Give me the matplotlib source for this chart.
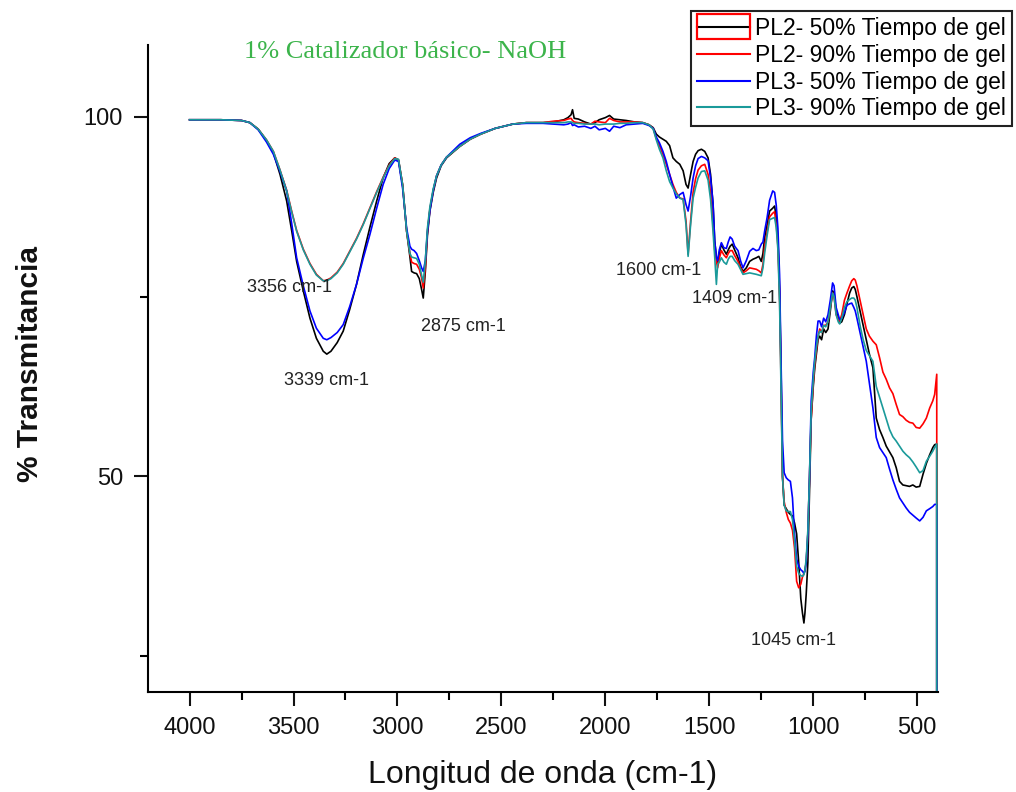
import matplotlib
matplotlib.use("Agg")
import matplotlib.pyplot as plt
from matplotlib.patches import Rectangle
from matplotlib.ticker import MultipleLocator

plt.rcParams['font.family'] = ['Liberation Sans', 'DejaVu Sans']

# Wavenumber grid (cm-1), shared by the four spectra
wavenumber = (
    [4000, 3850, 3750, 3710, 3670, 3630, 3597, 3565, 3533, 3509,
     3485, 3453, 3421, 3390, 3357, 3340, 3320, 3290, 3261, 3230,
     3197, 3165, 3133, 3100, 3069, 3040, 3013]
    + [2995, 2975, 2956, 2940, 2932, 2920, 2908, 2895, 2884, 2876,
       2866, 2856, 2844, 2828, 2812, 2790, 2764]
    + [2700, 2650, 2600, 2530, 2445, 2380, 2300, 2250, 2200, 2180,
       2165, 2158, 2150, 2130, 2100, 2070, 2050, 2030, 2000, 1980,
       1960, 1930, 1900, 1860, 1820, 1790]
    + [1770, 1755, 1740, 1723, 1707, 1691, 1675, 1659, 1642, 1626,
       1612, 1602, 1590, 1578, 1566, 1554, 1538, 1522, 1506, 1494,
       1482, 1474, 1466, 1460, 1452, 1442, 1430, 1418, 1409, 1400,
       1390, 1378, 1362, 1350, 1338, 1322, 1306, 1290, 1274, 1262,
       1250, 1242, 1234, 1222, 1210, 1195, 1186, 1178, 1170, 1162, 1155]
    + [1148, 1140, 1130, 1120, 1110, 1100, 1090, 1080, 1070, 1060,
       1052, 1045, 1040, 1034, 1026, 1018, 1010, 1000, 993, 985,
       977, 969, 960, 950, 940, 929, 918, 907, 900, 890,
       880, 873, 863, 850, 838, 825, 815, 805, 798, 790,
       775, 760, 745, 730, 713, 697, 681, 665, 649, 633,
       617, 601, 585, 569, 553, 537, 521, 505, 488, 472,
       456, 440, 425, 416, 406, 406]
)

# % Transmittance, PL2 at 50 % gel time
pl2_50 = (
    [99.6, 99.6, 99.5, 99.2, 98.3, 96.7, 95.0, 92.0, 88.3, 84.2,
     79.9, 75.8, 72.0, 69.2, 67.4, 67.0, 67.4, 68.6, 70.2, 73.2,
     76.7, 80.8, 84.6, 88.3, 91.5, 93.5, 94.3]
    + [94.0, 90.5, 84.1, 80.5, 78.5, 78.3, 78.2, 77.5, 76.0, 74.8,
       78.5, 83.5, 86.9, 89.5, 91.5, 93.2, 94.3]
    + [95.9, 96.9, 97.6, 98.4, 99.0, 99.2, 99.2, 99.3, 99.6, 99.9,
       100.3, 101.0, 99.8, 99.7, 99.3, 99.0, 99.2, 99.6, 99.9, 100.2,
       99.7, 99.6, 99.5, 99.3, 99.2, 98.9]
    + [98.5, 97.6, 97.2, 96.9, 96.6, 96.0, 94.3, 93.8, 93.4, 92.5,
       90.6, 90.1, 92.0, 93.8, 94.8, 95.3, 95.5, 95.2, 94.3, 92.0,
       87.8, 82.7, 80.5, 79.5, 81.0, 82.3, 81.5, 80.9, 81.5, 82.0,
       82.3, 81.5, 80.4, 79.2, 78.5, 79.0, 79.9, 80.2, 80.4, 80.6,
       79.9, 81.0, 83.2, 85.0, 86.9, 87.3, 87.6, 86.0, 83.0, 76.0, 65.0]
    + [50.0, 46.0, 45.5, 45.0, 44.7, 44.5, 43.5, 42.0, 38.0, 33.0,
       31.0, 29.6, 31.0, 33.6, 38.0, 48.0, 58.0, 62.5, 65.0, 67.0,
       69.0, 69.5, 69.0, 70.5, 70.0, 70.5, 73.0, 75.8, 75.5, 73.0,
       72.0, 71.3, 71.5, 72.5, 74.0, 75.5, 76.2, 76.4, 76.0, 75.0,
       73.0, 71.0, 69.0, 67.0, 65.1, 58.1, 56.5, 55.4, 54.2, 53.4,
       52.6, 51.2, 49.3, 48.8, 48.7, 48.6, 48.8, 48.5, 48.6, 50.3,
       51.8, 53.0, 54.0, 54.4, 54.5, 0.0]
)

# % Transmittance, PL2 at 90 % gel time
pl2_90 = (
    [99.6, 99.6, 99.5, 99.2, 98.3, 96.8, 95.2, 92.6, 89.8, 86.9,
     84.2, 81.6, 79.6, 78.1, 77.2, 77.3, 77.6, 78.4, 79.6, 81.3,
     83.1, 85.1, 87.3, 89.6, 91.6, 93.3, 94.3]
    + [94.0, 90.5, 84.1, 81.0, 79.8, 79.6, 79.5, 78.8, 77.6, 76.2,
       79.0, 84.0, 87.2, 89.8, 91.8, 93.3, 94.4]
    + [95.9, 96.9, 97.6, 98.4, 99.0, 99.2, 99.2, 99.4, 99.5, 99.7,
       99.8, 99.5, 99.3, 99.2, 99.1, 99.0, 99.4, 99.3, 99.2, 99.8,
       99.5, 99.3, 99.3, 99.3, 99.2, 98.9]
    + [98.4, 97.0, 96.0, 94.8, 93.4, 92.0, 90.6, 89.5, 88.7, 88.6,
       85.5, 80.9, 85.5, 89.5, 91.4, 92.6, 93.2, 93.4, 92.0, 89.5,
       85.0, 81.5, 80.0, 79.0, 80.3, 81.4, 80.8, 80.4, 81.0, 81.4,
       81.4, 80.7, 79.9, 79.0, 78.3, 78.6, 79.0, 78.9, 78.8, 78.6,
       78.3, 79.5, 81.9, 84.0, 86.1, 86.6, 86.8, 85.0, 82.0, 75.0, 63.0]
    + [50.0, 46.5, 45.0, 44.0, 43.5, 42.5, 40.0, 35.4, 34.5, 35.0,
       36.0, 36.5, 37.0, 38.0, 42.0, 50.0, 58.0, 63.0, 65.5, 67.5,
       69.5, 70.5, 70.0, 71.0, 71.0, 71.5, 73.5, 75.5, 75.0, 72.5,
       71.8, 71.6, 72.5, 74.5, 75.5, 76.5, 77.2, 77.5, 77.3, 76.5,
       74.5, 72.5, 70.5, 69.5, 68.8, 68.3, 66.5, 64.5, 63.5, 62.3,
       61.5, 60.0, 58.6, 58.3, 57.8, 57.5, 57.4, 56.8, 56.7, 57.3,
       58.1, 59.5, 60.5, 61.4, 64.2, 0.0]
)

# % Transmittance, PL3 at 50 % gel time
pl3_50 = (
    [99.6, 99.6, 99.5, 99.2, 98.2, 96.5, 94.8, 92.4, 89.7, 85.2,
     80.4, 76.5, 73.0, 70.6, 69.2, 69.0, 69.3, 70.0, 71.1, 73.6,
     76.7, 80.3, 83.6, 87.3, 90.6, 92.8, 94.0]
    + [93.8, 90.0, 84.5, 82.0, 81.6, 81.4, 81.0, 80.0, 79.0, 78.5,
       80.0, 84.0, 87.0, 89.8, 91.8, 93.3, 94.4]
    + [96.2, 97.1, 97.7, 98.4, 99.0, 99.1, 99.1, 99.0, 98.9, 99.0,
       99.2, 98.8, 98.9, 98.6, 98.7, 98.4, 98.7, 98.2, 98.4, 98.0,
       98.7, 98.5, 98.9, 99.0, 99.1, 98.8]
    + [98.4, 97.2, 96.4, 95.2, 93.8, 92.0, 90.3, 88.7, 89.2, 89.5,
       87.8, 86.9, 89.0, 91.5, 93.2, 94.2, 94.5, 94.3, 93.9, 91.5,
       88.0, 82.7, 80.5, 80.0, 81.5, 82.5, 81.8, 81.7, 82.6, 83.3,
       83.0, 82.0, 81.4, 80.0, 79.0, 80.0, 81.3, 81.7, 81.4, 81.5,
       82.3, 82.6, 84.1, 86.0, 88.4, 89.7, 89.5, 87.7, 84.5, 78.0, 66.0]
    + [55.0, 50.5, 49.8, 49.5, 49.3, 47.0, 42.0, 38.5, 37.5, 37.0,
       36.8, 36.5, 36.8, 38.0, 42.0, 50.0, 60.5, 64.5, 66.5, 69.5,
       71.6, 71.6, 70.8, 72.0, 71.5, 72.5, 74.5, 76.9, 76.5, 73.5,
       72.5, 71.8, 72.0, 72.8, 73.8, 74.0, 74.1, 73.5, 73.0, 72.0,
       70.0, 68.0, 66.0, 63.0, 59.5, 55.4, 54.0, 53.3, 52.6, 51.0,
       49.5, 48.2, 47.0, 46.3, 45.6, 45.0, 44.6, 44.2, 43.8, 44.3,
       45.2, 45.5, 45.8, 46.1, 46.1, 0.0]
)

# % Transmittance, PL3 at 90 % gel time
pl3_90 = (
    [99.6, 99.6, 99.5, 99.2, 98.3, 96.8, 95.2, 92.6, 89.7, 86.8,
     84.1, 81.5, 79.5, 78.0, 77.2, 77.2, 77.5, 78.3, 79.5, 81.2,
     83.0, 85.0, 87.2, 89.5, 91.5, 93.2, 94.2]
    + [94.1, 90.5, 84.1, 81.0, 80.5, 80.4, 80.3, 79.5, 78.0, 77.0,
       80.0, 84.5, 87.5, 90.0, 91.8, 93.3, 94.4]
    + [95.9, 96.9, 97.6, 98.4, 99.0, 99.2, 99.2, 99.2, 99.2, 99.3,
       99.3, 99.2, 99.1, 99.1, 99.0, 99.0, 99.0, 98.9, 99.0, 99.0,
       99.0, 99.1, 99.1, 99.2, 99.2, 98.9]
    + [98.3, 96.8, 95.5, 94.3, 92.5, 91.0, 90.1, 89.3, 88.7, 88.5,
       85.0, 80.6, 85.0, 88.7, 90.2, 91.5, 92.4, 92.5, 91.2, 88.5,
       84.0, 80.5, 76.7, 79.5, 79.8, 80.4, 79.8, 79.5, 80.2, 80.6,
       80.6, 80.0, 79.5, 78.8, 78.1, 78.2, 78.3, 78.2, 78.1, 78.0,
       77.9, 79.0, 81.0, 83.5, 85.7, 85.9, 86.0, 84.6, 81.5, 74.0, 62.0]
    + [50.0, 46.0, 45.2, 45.1, 45.1, 44.0, 41.0, 37.5, 36.5, 36.2,
       36.1, 36.3, 37.0, 38.5, 42.5, 50.0, 59.0, 63.5, 66.0, 68.0,
       69.5, 70.2, 70.0, 71.0, 70.8, 71.5, 73.5, 75.5, 75.0, 72.5,
       71.5, 71.2, 72.0, 73.5, 74.3, 74.6, 74.8, 74.8, 74.5, 73.5,
       71.0, 69.0, 67.5, 66.8, 66.0, 62.5, 61.0, 59.5, 58.0, 56.5,
       55.5, 54.9, 54.2, 53.5, 53.0, 52.6, 52.0, 51.3, 50.5, 50.8,
       52.1, 52.8, 53.5, 54.0, 54.5, 0.0]
)

series_labels = ["PL2- 50% Tiempo de gel", "PL2- 90% Tiempo de gel",
                 "PL3- 50% Tiempo de gel", "PL3- 90% Tiempo de gel"]
series_colors = ["#000000", "#ff0000", "#0000ff", "#1a9a9a"]

# Band annotations: (text, wavenumber, transmittance)
band_labels = ["3356 cm-1", "3339 cm-1", "2875 cm-1",
               "1600 cm-1", "1409 cm-1", "1045 cm-1"]
band_x = [3517, 3339, 2681, 1743, 1378, 1094]
band_y = [76.2, 63.4, 70.9, 78.7, 74.8, 27.1]

for s in (pl2_50, pl2_90, pl3_50, pl3_90):
    assert len(s) == len(wavenumber)

W, H = 1016, 792
fig = plt.figure(figsize=(W / 100, H / 100), dpi=100)
ax = fig.add_axes([148 / W, 1 - 692 / H, (938 - 148) / W, (692 - 45) / H])

for ys, lab, col in zip((pl2_50, pl2_90, pl3_50, pl3_90), series_labels, series_colors):
    ax.plot(wavenumber, ys, color=col, lw=1.2, label=lab)

ax.set_xlim(4200, 400)
ax.set_ylim(20, 110)
ax.xaxis.set_major_locator(MultipleLocator(500))
ax.xaxis.set_minor_locator(MultipleLocator(250))
ax.yaxis.set_minor_locator(MultipleLocator(25))
ax.set_yticks([50, 100])

for side in ("top", "right"):
    ax.spines[side].set_visible(False)
for side in ("left", "bottom"):
    ax.spines[side].set_linewidth(1.5)

ax.tick_params(which="major", direction="out", length=10, width=1.5,
               labelsize=17, colors="#111111", pad=8)
ax.tick_params(which="minor", direction="out", length=6, width=1.5)

for t, x, y in zip(band_labels, band_x, band_y):
    ax.text(x, y, t, ha="center", va="center", fontsize=13, color="#222222")

fig.text(405 / W, 1 - 52 / H, "1% Catalizador básico- NaOH",
         family=["Liberation Serif", "DejaVu Serif"], fontsize=19,
         color="#3cb44b", ha="center", va="center")
fig.text(543 / W, 1 - 775 / H, "Longitud de onda (cm-1)",
         fontsize=23, ha="center", va="center", color="#111111")
fig.text(30 / W, 1 - 364 / H, "% Transmitancia", fontsize=21.5,
         fontweight="bold", rotation=90, ha="center", va="center",
         color="#111111")

leg = fig.legend(loc="upper right", bbox_to_anchor=(1012 / W, 1 - 11 / H),
                 fontsize=16.5, frameon=True, fancybox=False, edgecolor="#222222",
                 framealpha=1, handlelength=2.3, handletextpad=0.25,
                 labelspacing=0.17, borderpad=0.25, borderaxespad=0)
leg.get_frame().set_linewidth(1.5)
for line in leg.get_lines():
    line.set_linewidth(1.5)

# Highlight box around the first legend handle
fig.canvas.draw()
hb = leg.get_lines()[0].get_window_extent(fig.canvas.get_renderer())
cy = (hb.y0 + hb.y1) / 2
box = Rectangle((hb.x0 / W, (cy - 12.5) / H), (hb.x1 - hb.x0) / W, 25 / H,
                transform=fig.transFigure, fill=False,
                edgecolor="#ff0000", lw=1.6, zorder=10)
fig.add_artist(box)

fig.savefig("out.png", dpi=100)
